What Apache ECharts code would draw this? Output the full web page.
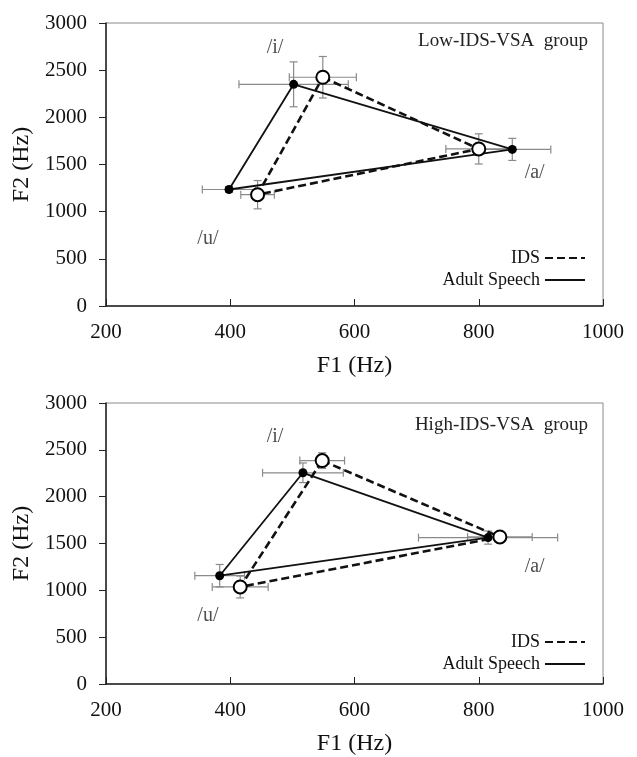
<!DOCTYPE html>
<html>
<head>
<meta charset="utf-8">
<script src="https://cdn.jsdelivr.net/npm/echarts@6/dist/echarts.min.js"></script>
<style>
  html, body { margin: 0; padding: 0; background: #fff; }
  #chart { width: 637px; height: 757px; }
</style>
</head>
<body>
<div id="chart"></div>
<script>
// vowel order: /i/, /a/, /u/
const vowels = ['/i/', '/a/', '/u/']

// Low-IDS-VSA group
const lowAdultF1 = [502, 854, 398]
const lowAdultF2 = [2350, 1660, 1235]
const lowAdultF1Err = [88, 62, 43]
const lowAdultF2Err = [238, 117, 30]
const lowIdsF1 = [549, 800, 444]
const lowIdsF2 = [2425, 1665, 1180]
const lowIdsF1Err = [54, 53, 27]
const lowIdsF2Err = [220, 160, 150]
const lowLabelF1 = [472, 890, 364]
const lowLabelF2 = [2735, 1415, 715]

// High-IDS-VSA group
const highAdultF1 = [517, 815, 383]
const highAdultF2 = [2255, 1563, 1156]
const highAdultF1Err = [65, 112, 40]
const highAdultF2Err = [105, 70, 120]
const highIdsF1 = [548, 834, 416]
const highIdsF2 = [2385, 1570, 1036]
const highIdsF1Err = [36, 52, 45]
const highIdsF2Err = [84, 40, 117]
const highLabelF1 = [472, 890, 364]
const highLabelF2 = [2640, 1250, 727]

const groupTitles = ['Low-IDS-VSA  group', 'High-IDS-VSA  group']

const FONT = '"Liberation Serif", "Times New Roman", serif'

// 三角形闭合
const triangle = (f1, f2) => {
  const pts = f1.map((v, i) => [v, f2[i]])
  pts.push(pts[0])
  return pts
}
const points = (f1, f2) => f1.map((v, i) => [v, f2[i]])
const errData = (f1, f2, e1, e2) => f1.map((v, i) => [v, f2[i], e1[i], e2[i]])

// 误差线
const renderErr = (params, api) => {
  const x = api.value(0), y = api.value(1), ex = api.value(2), ey = api.value(3)
  const l = api.coord([x - ex, y]), r = api.coord([x + ex, y])
  const t = api.coord([x, y + ey]), b = api.coord([x, y - ey])
  const c = 4
  const st = { stroke: '#8a8a8a', lineWidth: 1.2 }
  const seg = (x1, y1, x2, y2) => ({ type: 'line', shape: { x1, y1, x2, y2 }, style: st })
  return {
    type: 'group',
    children: [
      seg(l[0], l[1], r[0], r[1]),
      seg(t[0], t[1], b[0], b[1]),
      seg(l[0], l[1] - c, l[0], l[1] + c),
      seg(r[0], r[1] - c, r[0], r[1] + c),
      seg(t[0] - c, t[1], t[0] + c, t[1]),
      seg(b[0] - c, b[1], b[0] + c, b[1])
    ]
  }
}

const buildSeries = (idx, g) => [
  {
    type: 'custom', xAxisIndex: idx, yAxisIndex: idx, z: 1,
    renderItem: renderErr, silent: true,
    data: errData(g.adultF1, g.adultF2, g.adultF1Err, g.adultF2Err)
  },
  {
    type: 'custom', xAxisIndex: idx, yAxisIndex: idx, z: 1,
    renderItem: renderErr, silent: true,
    data: errData(g.idsF1, g.idsF2, g.idsF1Err, g.idsF2Err)
  },
  {
    name: 'Adult Speech', type: 'line', xAxisIndex: idx, yAxisIndex: idx, z: 3,
    symbol: 'none', color: '#111',
    lineStyle: { color: '#111', width: 1.8 },
    data: triangle(g.adultF1, g.adultF2)
  },
  {
    name: 'IDS', type: 'line', xAxisIndex: idx, yAxisIndex: idx, z: 3,
    symbol: 'none', color: '#111',
    lineStyle: { color: '#111', width: 2.6, type: [8, 4] },
    data: triangle(g.idsF1, g.idsF2)
  },
  {
    type: 'scatter', xAxisIndex: idx, yAxisIndex: idx, z: 5,
    symbol: 'circle', symbolSize: 9,
    itemStyle: { color: '#000', opacity: 1 },
    data: points(g.adultF1, g.adultF2)
  },
  {
    type: 'scatter', xAxisIndex: idx, yAxisIndex: idx, z: 6,
    symbol: 'circle', symbolSize: 13,
    itemStyle: { color: '#fff', borderColor: '#000', borderWidth: 2, opacity: 1 },
    data: points(g.idsF1, g.idsF2)
  },
  {
    type: 'scatter', xAxisIndex: idx, yAxisIndex: idx, z: 7,
    symbolSize: 0, silent: true,
    label: {
      show: true, position: 'inside',
      formatter: p => p.value[2],
      fontFamily: FONT, fontSize: 20, color: '#222'
    },
    data: g.labelF1.map((v, i) => [v, g.labelF2[i], vowels[i]])
  }
]

const groups = [
  {
    adultF1: lowAdultF1, adultF2: lowAdultF2, adultF1Err: lowAdultF1Err, adultF2Err: lowAdultF2Err,
    idsF1: lowIdsF1, idsF2: lowIdsF2, idsF1Err: lowIdsF1Err, idsF2Err: lowIdsF2Err,
    labelF1: lowLabelF1, labelF2: lowLabelF2
  },
  {
    adultF1: highAdultF1, adultF2: highAdultF2, adultF1Err: highAdultF1Err, adultF2Err: highAdultF2Err,
    idsF1: highIdsF1, idsF2: highIdsF2, idsF1Err: highIdsF1Err, idsF2Err: highIdsF2Err,
    labelF1: highLabelF1, labelF2: highLabelF2
  }
]

const grids = [
  { left: 106, right: 34, top: 23, height: 283 },
  { left: 106, right: 34, top: 403, height: 285 }
]

const makeX = idx => ({
  type: 'value', gridIndex: idx, min: 200, max: 1000, interval: 200,
  name: 'F1 (Hz)', nameLocation: 'middle', nameGap: 48,
  nameTextStyle: { fontFamily: FONT, fontSize: 24, color: '#111' },
  axisLine: { show: true, onZero: false, lineStyle: { color: '#222', width: 1.5 } },
  axisTick: { show: true, inside: true, length: 7, lineStyle: { color: '#222' } },
  axisLabel: { margin: 16, fontFamily: FONT, fontSize: 21, color: '#111', formatter: v => String(v) },
  splitLine: { show: false }
})

const makeY = idx => ({
  type: 'value', gridIndex: idx, min: 0, max: 3000, interval: 500,
  name: 'F2 (Hz)', nameLocation: 'middle', nameGap: 63,
  nameTextStyle: { fontFamily: FONT, fontSize: 24, color: '#111' },
  axisLine: { show: true, lineStyle: { color: '#222', width: 1.5 } },
  axisTick: { show: true, inside: false, length: 7, lineStyle: { color: '#222' } },
  axisLabel: { margin: 19, fontFamily: FONT, fontSize: 21, color: '#111', formatter: v => String(v) },
  splitLine: { show: false }
})

const legendBase = {
  orient: 'vertical', align: 'right', right: 51, padding: 0,
  itemWidth: 40, itemHeight: 14, itemGap: 5, selectedMode: false,
  itemStyle: { color: 'rgba(0,0,0,0)', borderWidth: 0, opacity: 0 },
  textStyle: { fontFamily: FONT, fontSize: 18, color: '#111' }
}

const chart = echarts.init(document.getElementById('chart'), null, { renderer: 'canvas' })

const option = {
  animation: false,
  backgroundColor: '#fff',
  title: [
    {
      text: groupTitles[0], right: 44, top: 27,
      textStyle: { fontFamily: FONT, fontSize: 19, fontWeight: 'normal', color: '#222' }
    },
    {
      text: groupTitles[1], right: 44, top: 411,
      textStyle: { fontFamily: FONT, fontSize: 19, fontWeight: 'normal', color: '#222' }
    }
  ],
  legend: [
    { ...legendBase, top: 249, data: ['IDS'] },
    { ...legendBase, top: 271, data: ['Adult Speech'] },
    { ...legendBase, top: 633, data: ['IDS'] },
    { ...legendBase, top: 655, data: ['Adult Speech'] }
  ],
  grid: grids.map(g => ({ ...g, show: true, borderColor: '#8a8a8a', borderWidth: 1 })),
  xAxis: [makeX(0), makeX(1)],
  yAxis: [makeY(0), makeY(1)],
  series: [...buildSeries(0, groups[0]), ...buildSeries(1, groups[1])]
}

chart.setOption(option)
</script>
</body>
</html>
